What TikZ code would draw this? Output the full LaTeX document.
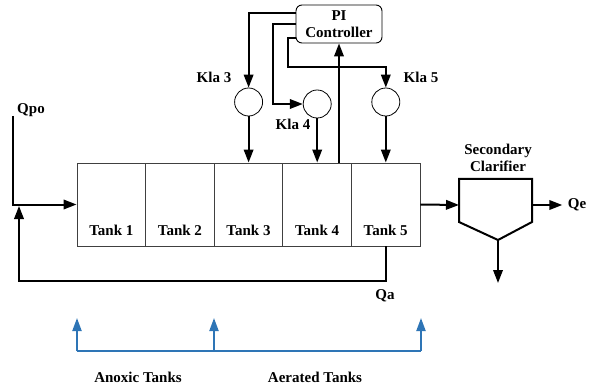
\documentclass[tikz,border=0pt]{standalone}
\usepackage{fontspec}
\setmainfont{Liberation Serif}
\newfontfamily\diafont{Liberation Serif}[BoldFont={Liberation Serif Bold}]
\usetikzlibrary{arrows.meta}
\definecolor{flowblue}{HTML}{2E75B6}
\begin{document}
\begin{tikzpicture}[x=1pt,y=-1pt, every node/.style={font=\diafont\fontsize{15}{17}\selectfont\bfseries},
  flow/.style={line width=2pt,-{Triangle[length=13pt,width=9.5pt]}},
  tank/.style={draw=black!75,line width=0.9pt,minimum width=68.6pt,minimum height=83pt,inner sep=0pt},
  valve/.style={draw,circle,minimum size=28pt,inner sep=0pt,line width=0.8pt},
  zone/.style={flowblue,line width=2pt,-{Triangle[length=13pt,width=9pt]}}]
\useasboundingbox (0,0) rectangle (593,387);
\foreach \i in {1,...,5} {
  \node[tank] (t\i) at ({111.3+68.6*(\i-1)},204.5) {};
  \node (lt\i) at ([yshift=16pt]t\i.south) {Tank \i};
}
\node[draw,rounded corners=6pt,line width=0.9pt,minimum width=86pt,minimum height=38pt,inner sep=1pt,align=center] (pi) at (339,24) {PI\\Controller};
\node[valve] (v3) at (248.6,102) {};
\node[valve] (v4) at (317.2,104) {};
\node[valve] (v5) at (385.8,102) {};
\node (k3) at (214,77) {Kla 3};
\node (k4) at (293,124) {Kla 4};
\node (k5) at (421,77) {Kla 5};
\draw[flow] ([yshift=11pt]pi.west) -| (v3);
\draw[flow] (pi.west) -| ([xshift=-30pt]v4.west) -- (v4);
\draw[flow] ([yshift=-14pt]pi.west) -- ++(-8,0) |- ([yshift=21pt]v5.north) -- (v5);
\foreach \i in {3,4,5} \draw[flow] (v\i) -- (v\i |- t\i.north);
\draw[flow] (t4.north -| pi.south) -- (pi.south);
% clarifier
\coordinate (cin) at (459,205);
\coordinate (cout) at (532,205);
\coordinate (cbot) at (498,240);
\coordinate (sludge) at (498,283);
\draw[line width=2pt] (459,179) -- (532,179) -- (532,222) -- (cbot) -- (459,222) -- cycle;
\node[align=center] (clar) at (498,158) {Secondary\\Clarifier};
\draw[flow] (t5.east) -- (cin);
\node (qe) at (577,205) {Qe};
\draw[flow] (cout) -- ([xshift=-2pt]qe.west);
\draw[flow] (cbot) -- (sludge);
% influent and recycle
\node (qpo) at (31,110) {Qpo};
\coordinate (qin) at (13,116);
\draw[flow] (qin) |- (t1.west);
\coordinate (rec) at (19,206);
\draw[flow] (t5.south) -- ++(0,35) -| (rec);
\node (qa) at (385,296) {Qa};
% zones
\coordinate (b1) at (77,351);
\coordinate (b2) at (214,351);
\coordinate (b3) at (421,351);
\draw[flowblue,line width=2pt] (b1) -- (b3);
\foreach \b in {b1,b2,b3} \draw[zone] (\b) -- ++(0,-33);
\node (anox) at (138,377) {Anoxic Tanks};
\node (aer) at (315,377) {Aerated Tanks};
\end{tikzpicture}
\end{document}
